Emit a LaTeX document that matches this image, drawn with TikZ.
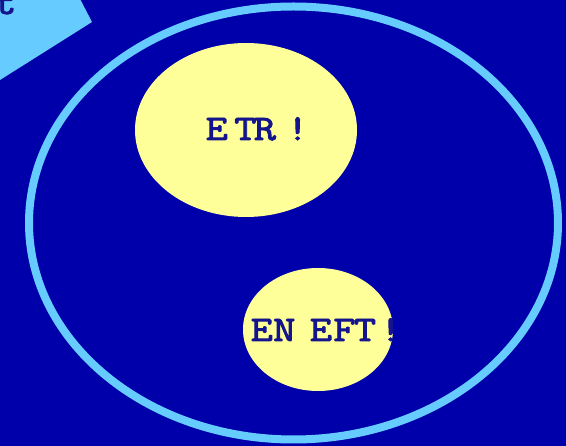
\documentclass[tikz,border=0pt]{standalone}
\usepackage{fontspec}
\newfontfamily\courfont{Latin Modern Mono}[FakeBold=2.6, FakeStretch=1.2]
\usetikzlibrary{shapes.geometric}
\definecolor{bgblue}{RGB}{0,0,170}
\definecolor{ringblue}{RGB}{102,204,255}
\definecolor{paleyellow}{RGB}{255,255,153}
\definecolor{txtblue}{RGB}{20,20,140}
\tikzset{
  blob/.style={ellipse, fill=paleyellow, draw=none, inner sep=0pt},
  label/.style={font=\courfont\fontsize{36}{36}\selectfont, text=txtblue, inner sep=0pt, anchor=base west}
}
\begin{document}
\begin{tikzpicture}[x=1pt,y=-1pt]
\useasboundingbox (0,0) rectangle (566,446);
\fill[bgblue] (0,0) rectangle (566,446);
\fill[ringblue] (0,-5) -- (78,-5) -- (92,22) -- (0,80) -- cycle;
\node[label] (tt) at (-6,14) {t};
\node[ellipse, draw=ringblue, line width=8pt, minimum width=529pt, minimum height=433pt, inner sep=0pt] (ring) at (293.5,223) {};
\node[blob, minimum width=222pt, minimum height=174pt] (top) at (246,130) {};
\node[blob, minimum width=150pt, minimum height=123pt] (bot) at (318,329.5) {};
\node[label] (etr) at (205.5,140) {E\kern6.3pt T\kern-2.7pt R\kern10.5pt !};
\node[label] (eneft) at (250.5,341) {E\kern0.3pt N\kern14.3pt E\kern1.3pt F\kern-1.7pt T\kern3.5pt !};
\end{tikzpicture}
\end{document}
